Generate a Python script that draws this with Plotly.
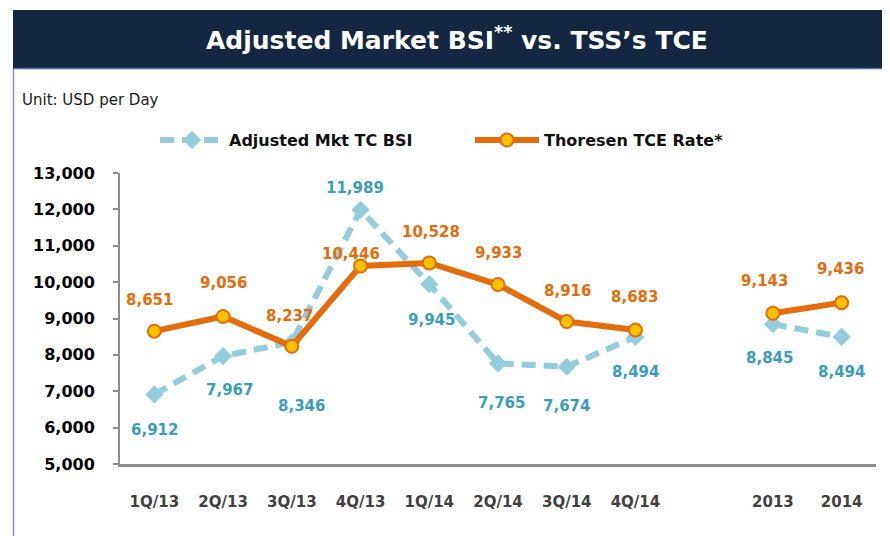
import plotly.graph_objects as go

# ---- data ----
categories = ["1Q/13", "2Q/13", "3Q/13", "4Q/13", "1Q/14", "2Q/14", "3Q/14", "4Q/14", "", "2013", "2014"]
bsi_values = [6912, 7967, 8346, 11989, 9945, 7765, 7674, 8494, None, 8845, 8494]
tce_values = [8651, 9056, 8237, 10446, 10528, 9933, 8916, 8683, None, 9143, 9436]
y_ticks = [5000, 6000, 7000, 8000, 9000, 10000, 11000, 12000, 13000]

# label offsets in pixels (styling)
bsi_label_shift = [-36, -34, -64, 22, -36, -40, -39, -35, None, -34, -35]
bsi_label_xshift = [0, 6, 10, -6, 2, 3, 0, 0, None, -3, 0]
tce_label_shift = [31, 33, 30, 12, 31, 32, 31, 33, None, 32, 34]
tce_label_xshift = [-5, 0, -2, -10, 2, 0, 1, -1, None, -8, -1]

x_idx = list(range(len(categories)))
tick_pos = [i for i, c in zip(x_idx, categories) if c]
tick_txt = [c for c in categories if c]

BLUE_LINE = "#93cddd"
BLUE_TEXT = "#3a9dbb"
ORANGE = "#e46c0a"
GOLD = "#ffc000"
NAVY = "#132642"

FONT = "DejaVu Sans"

fig = go.Figure()

fig.add_trace(go.Scatter(
    x=x_idx, y=bsi_values, name="Adjusted Mkt TC BSI",
    mode="lines+markers", connectgaps=False,
    line=dict(color=BLUE_LINE, width=6, dash="14px,8px"),
    marker=dict(symbol="diamond", size=14, color=BLUE_LINE),
))
fig.add_trace(go.Scatter(
    x=x_idx, y=tce_values, name="Thoresen TCE Rate*",
    mode="lines+markers", connectgaps=False,
    line=dict(color=ORANGE, width=6),
    marker=dict(symbol="circle", size=13, color=GOLD, line=dict(color=ORANGE, width=2)),
))

annotations = []
for x, v, dy, dx in zip(x_idx, bsi_values, bsi_label_shift, bsi_label_xshift):
    if v is None:
        continue
    annotations.append(dict(x=x, y=v, xref="x", yref="y", text=f"{v:,}", showarrow=False,
                            yshift=dy, xshift=dx,
                            font=dict(family=FONT, size=15, color=BLUE_TEXT, weight="bold")))
for x, v, dy, dx in zip(x_idx, tce_values, tce_label_shift, tce_label_xshift):
    if v is None:
        continue
    annotations.append(dict(x=x, y=v, xref="x", yref="y", text=f"{v:,}", showarrow=False,
                            yshift=dy, xshift=dx,
                            font=dict(family=FONT, size=15, color=ORANGE, weight="bold")))

# page has an 8px body margin: figure px = screen px - 8
OFF = 8
L, R, T, B = 120 - OFF, 876 - OFF, 173 - OFF, 464 - OFF
def px(xs):
    return (xs - OFF - L) / (R - L)
def py(ys):
    return (B - (ys - OFF)) / (B - T)

annotations.append(dict(xref="paper", yref="paper", x=px(457), y=py(38),
                        text="Adjusted Market BSI<sup>**</sup> vs. TSS\u2019s TCE",
                        showarrow=False, xanchor="center", yanchor="middle",
                        font=dict(family=FONT, size=25, color="white", weight="bold")))
annotations.append(dict(xref="paper", yref="paper", x=px(20), y=py(100), text="Unit: USD per Day",
                        showarrow=False, xanchor="left", yanchor="middle",
                        font=dict(family=FONT, size=15, color="#1a1a1a")))

shapes = [
    dict(type="rect", xref="paper", yref="paper", x0=px(13), x1=px(905), y0=py(68), y1=py(10),
         fillcolor=NAVY, line=dict(width=0), layer="below"),
    dict(type="line", xref="paper", yref="paper", x0=px(13.5), x1=px(13.5), y0=py(68), y1=py(560),
         line=dict(color="#7f99c8", width=1.5)),
    dict(type="line", xref="paper", yref="paper", x0=px(13), x1=px(905), y0=py(68.5), y1=py(68.5),
         line=dict(color="#4f6fa8", width=1.5)),
]

fig.update_layout(
    width=890, height=536,
    margin=dict(l=L, r=890 - R, t=T, b=536 - B),
    paper_bgcolor="white", plot_bgcolor="white",
    showlegend=True,
    legend=dict(orientation="h", x=px(155), y=py(140), xanchor="left", yanchor="middle",
                font=dict(family=FONT, size=16, color="#111111", weight="bold"),
                entrywidth=236, entrywidthmode="pixels", itemwidth=64,
                bgcolor="rgba(0,0,0,0)"),
    annotations=annotations,
    shapes=shapes,
    xaxis=dict(range=[-0.5, 10.5], tickmode="array", tickvals=tick_pos, ticktext=tick_txt,
               showgrid=False, zeroline=False, showline=True, linecolor="#8c8c8c", linewidth=3,
               ticks="outside", ticklen=22, tickcolor="rgba(0,0,0,0)",
               tickfont=dict(family=FONT, size=15, color="#404040", weight="bold")),
    yaxis=dict(range=[5000, 13000], tickmode="array", tickvals=y_ticks,
               ticktext=[f"{t:,}" for t in y_ticks],
               showgrid=False, zeroline=False, showline=True, linecolor="#8c8c8c", linewidth=2,
               ticks="outside", ticklen=5, tickcolor="#8c8c8c", tickwidth=2,
               ticklabelstandoff=15,
               tickfont=dict(family=FONT, size=16, color="#000000", weight="bold")),
)

fig.write_html("out.html")
